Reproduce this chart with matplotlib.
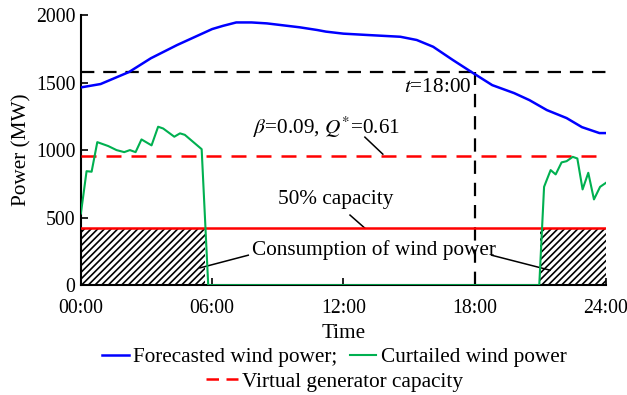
import matplotlib.pyplot as plt
from matplotlib.lines import Line2D

plt.rcParams['font.family'] = ['Liberation Serif', 'DejaVu Serif']
plt.rcParams['mathtext.fontset'] = 'stix'
plt.rcParams['font.size'] = 15.3
plt.rcParams['hatch.linewidth'] = 1.2

# Forecasted wind power over the day (hour, MW)
fc_hours = [0, 0.9, 2.2, 3.2, 4.4, 5.2, 6.0, 6.5, 7.1, 7.8, 8.5, 10.0, 10.8, 11.2, 12.0,
            13.1, 14.6, 15.35, 16.1, 17.0, 17.9, 18.8, 19.8, 20.5, 21.3, 22.2, 22.9, 23.7, 24.0]
fc_power = [1464, 1489, 1578, 1680, 1778, 1837, 1896, 1920, 1945, 1945, 1938, 1909, 1889, 1877, 1862,
            1852, 1839, 1815, 1765, 1667, 1573, 1481, 1422, 1370, 1296, 1237, 1170, 1126, 1126]

# Curtailed wind power (hour, MW)
ct_hours = [0, 0.26, 0.49, 0.75, 1.25, 1.63, 1.98, 2.24, 2.5, 2.77, 3.23, 3.53, 3.76, 4.27,
            4.53, 4.75, 5.52, 5.82, 20.95, 21.17, 21.29, 21.47, 21.7, 21.97, 22.2, 22.48,
            22.69, 22.93, 23.19, 23.45, 23.73, 24.0]
ct_power = [531, 844, 840, 1059, 1030, 1000, 985, 1000, 985, 1079, 1035, 1173, 1160, 1099,
            1124, 1113, 1007, 0, 0, 728, 778, 852, 820, 909, 918, 950,
            938, 709, 832, 635, 728, 758]

virtual_cap = 955      # virtual generator capacity
half_cap = 422         # 50% capacity
threshold = 1578       # forecast level at t = 18:00
t_cross = 18

# hatched consumption windows
left_span = (0, 5.67)
right_span = (21.0, 24)

xtick_pos = [0, 6, 12, 18, 24]
xtick_lab = ['00:00', '06:00', '12:00', '18:00', '24:00']
ytick_pos = [0, 500, 1000, 1500, 2000]

fig = plt.figure(figsize=(6.27, 3.95), dpi=100)
ax = fig.add_axes([0.129, 0.278, 0.8375, 0.684])

for x0, x1 in (left_span, right_span):
    ax.fill_between([x0, x1], 0, half_cap, facecolor='none', edgecolor='black',
                    hatch='/////', linewidth=0, zorder=1)

ax.axhline(threshold, color='black', lw=1.6, dashes=(6, 4), zorder=2)
ax.plot([t_cross, t_cross], [0, threshold], color='black', lw=1.6, dashes=(6, 4), zorder=2)
ax.axhline(half_cap, color='red', lw=1.8, zorder=3)
ax.axhline(virtual_cap, color='red', lw=1.8, dashes=(6, 4), zorder=3)
ax.plot(fc_hours, fc_power, color='blue', lw=1.8, zorder=4)
ax.plot(ct_hours, ct_power, color='#00b050', lw=1.5, zorder=4)

ax.set_xlim(0, 24)
ax.set_ylim(0, 2000)
ax.set_xticks(xtick_pos, xtick_lab)
ax.set_yticks(ytick_pos)
ax.tick_params(direction='in', length=5, width=1.2, labelsize=14.2)
ax.tick_params(axis='x', pad=10)
ax.tick_params(axis='y', pad=4)
for side in ('top', 'right'):
    ax.spines[side].set_visible(False)
for side in ('left', 'bottom'):
    ax.spines[side].set_linewidth(1.5)
ax.set_xlabel('Time', labelpad=4)
ax.set_ylabel('Power (MW)', labelpad=3)

# annotations
ax.text(17.85, 1467, '$t$=18:00', ha='right', va='center')
ax.text(11.25, 1170, r'$\beta$=0.09, $Q^{*}$=0.61', ha='center', va='center')
ax.plot([12.98, 13.8], [1096, 970], color='black', lw=1.1)
ax.text(11.65, 637, '50% capacity', ha='center', va='center')
ax.plot([12.3, 12.98], [519, 422], color='black', lw=1.1)
ax.text(13.4, 259, 'Consumption of wind power', ha='center', va='center')
ax.plot([7.65, 5.44], [222, 128], color='black', lw=1.1)
ax.plot([18.77, 21.44], [222, 111], color='black', lw=1.1)

row1 = [Line2D([], [], color='blue', lw=1.8), Line2D([], [], color='#00b050', lw=1.5)]
fig.legend(row1, ['Forecasted wind power;', 'Curtailed wind power'], ncol=2,
           loc='center', bbox_to_anchor=(0.533, 0.096), frameon=False,
           handlelength=1.25, handletextpad=0.2, columnspacing=0.6,
           borderpad=0, borderaxespad=0)
row2 = [Line2D([], [], color='red', lw=1.8, dashes=(5, 3))]
fig.legend(row2, ['Virtual generator capacity'], loc='center',
           bbox_to_anchor=(0.534, 0.033), frameon=False,
           handlelength=1.5, handletextpad=0.2, borderpad=0, borderaxespad=0)

fig.savefig('out.png', dpi=100)
